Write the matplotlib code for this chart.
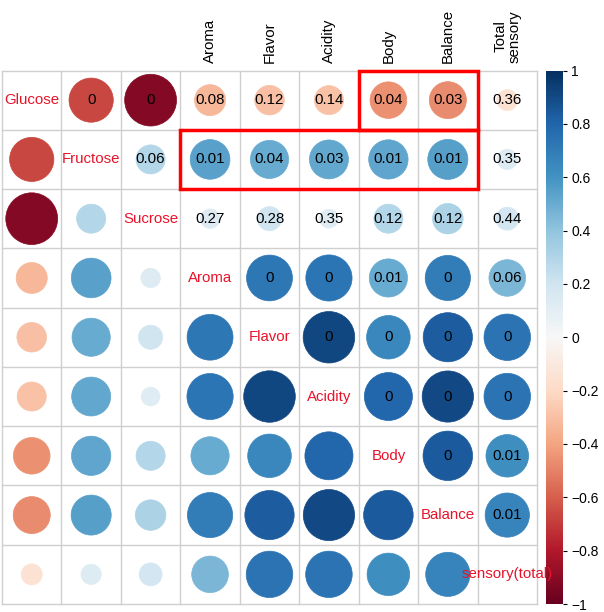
import numpy as np
import matplotlib
matplotlib.use("Agg")
import matplotlib.pyplot as plt
from matplotlib.patches import Circle, Rectangle
from matplotlib.colors import Normalize
from matplotlib.cm import ScalarMappable

plt.rcParams['font.family'] = ['Liberation Sans', 'DejaVu Sans']
plt.rcParams['axes.unicode_minus'] = True

variables = ["Glucose", "Fructose", "Sucrose", "Aroma", "Flavor", "Acidity",
             "Body", "Balance", "Total sensory"]
diag_labels = ["Glucose", "Fructose", "Sucrose", "Aroma", "Flavor", "Acidity",
               "Body", "Balance", "sensory(total)"]
top_labels = ["", "", "", "Aroma", "Flavor", "Acidity", "Body", "Balance", "Total\nsensory"]

# upper-triangle correlations, row by row (i<j)
corr_glucose = [-0.67, -0.92, -0.33, -0.30, -0.29, -0.46, -0.47, -0.15]
corr_fructose = [0.29, 0.54, 0.50, 0.52, 0.53, 0.55, 0.14]
corr_sucrose = [0.13, 0.20, 0.12, 0.29, 0.32, 0.18]
corr_aroma = [0.72, 0.73, 0.50, 0.70, 0.46]
corr_flavor = [0.91, 0.65, 0.83, 0.74]
corr_acidity = [0.79, 0.90, 0.74]
corr_body = [0.84, 0.62]
corr_balance = [0.67]

p_glucose = ["0", "0", "0.08", "0.12", "0.14", "0.04", "0.03", "0.36"]
p_fructose = ["0.06", "0.01", "0.04", "0.03", "0.01", "0.01", "0.35"]
p_sucrose = ["0.27", "0.28", "0.35", "0.12", "0.12", "0.44"]
p_aroma = ["0", "0", "0.01", "0", "0.06"]
p_flavor = ["0", "0", "0", "0"]
p_acidity = ["0", "0", "0"]
p_body = ["0", "0.01"]
p_balance = ["0.01"]

corr_rows = [corr_glucose, corr_fructose, corr_sucrose, corr_aroma, corr_flavor,
             corr_acidity, corr_body, corr_balance]
p_rows = [p_glucose, p_fructose, p_sucrose, p_aroma, p_flavor, p_acidity, p_body, p_balance]

n = len(variables)
C = np.eye(n)
P = [["" for _ in range(n)] for _ in range(n)]
for i, (row, prow) in enumerate(zip(corr_rows, p_rows)):
    for k, (v, p) in enumerate(zip(row, prow)):
        j = i + 1 + k
        C[i, j] = v
        C[j, i] = v
        P[i][j] = p

W, H = 604, 612
fig = plt.figure(figsize=(W / 100, H / 100), dpi=100)
x0, x1 = 2, 537
y0, y1 = 70.5, 604
ax = fig.add_axes([x0 / W, 1 - y1 / H, (x1 - x0) / W, (y1 - y0) / H])
ax.set_xlim(0, n)
ax.set_ylim(n, 0)
ax.set_axis_off()
ax.set_zorder(3)
ax.patch.set_alpha(0)

cmap = plt.get_cmap("RdBu")
norm = Normalize(-1, 1)

# grid
for k in range(n + 1):
    ax.plot([k, k], [0, n], color="#cfcfcf", lw=1, zorder=1, clip_on=False)
    ax.plot([0, n], [k, k], color="#cfcfcf", lw=1, zorder=1, clip_on=False)

for i in range(n):
    for j in range(n):
        if i == j:
            ax.text(j + 0.5, i + 0.5, diag_labels[i], color="#e8132a", fontsize=10.8,
                    ha="center", va="center", zorder=5, clip_on=False)
            continue
        r = C[i, j]
        rad = 0.455 * np.sqrt(abs(r))
        col = cmap(norm(r))
        ax.add_patch(Circle((j + 0.5, i + 0.5), rad, facecolor=col, edgecolor=col,
                            lw=0.5, zorder=2))
        if j > i:
            ax.text(j + 0.5, i + 0.5, P[i][j], color="black", fontsize=10.8,
                    ha="center", va="center", zorder=4)

# top labels
for j, lab in enumerate(top_labels):
    if lab:
        ax.text(j + 0.5, -0.13, lab, rotation=90, ha="center", va="bottom",
                fontsize=10.8, clip_on=False, linespacing=1.0)

# highlighted boxes
ax.add_patch(Rectangle((6, 0), 2, 1, fill=False, edgecolor="#ff0000", lw=2.5, zorder=6,
                       clip_on=False))
ax.add_patch(Rectangle((3, 1), 5, 1, fill=False, edgecolor="#ff0000", lw=2.5, zorder=6,
                       clip_on=False))

# colorbar
cax = fig.add_axes([546 / W, 1 - y1 / H, 17 / W, (y1 - y0) / H])
cax.set_zorder(1)
cb = fig.colorbar(ScalarMappable(norm=norm, cmap=cmap), cax=cax)
cb.outline.set_visible(False)
cb.set_ticks(np.round(np.arange(-1, 1.01, 0.2), 1))
cb.set_ticklabels(["\u22121", "\u22120.8", "\u22120.6", "\u22120.4", "\u22120.2", "0",
                   "0.2", "0.4", "0.6", "0.8", "1"])
cax.tick_params(labelsize=10, length=3, width=0.8, pad=3)

fig.savefig("out.png", dpi=100)
